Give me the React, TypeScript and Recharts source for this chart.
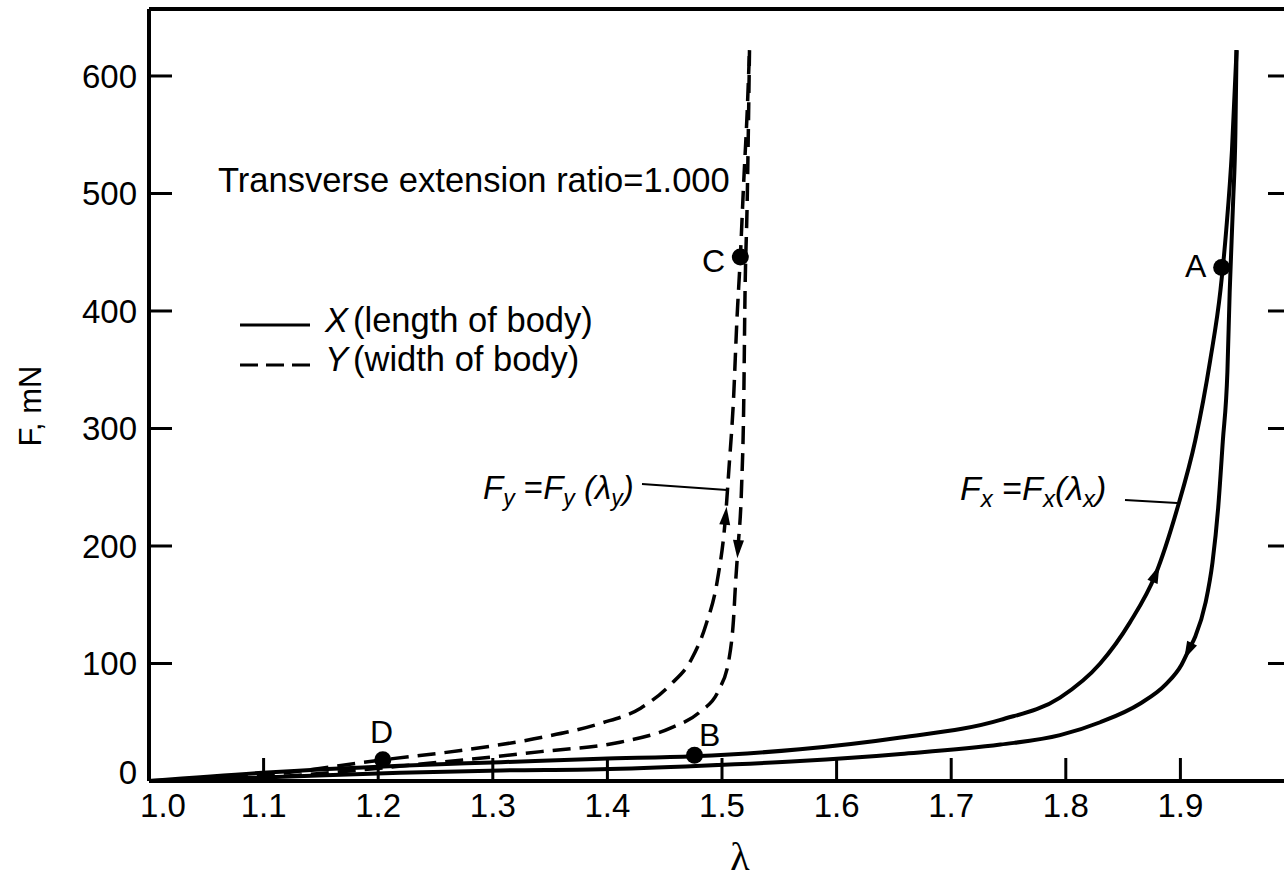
import React from 'react';
import { LineChart, Line, XAxis, YAxis, ReferenceDot, ReferenceLine } from 'recharts';

// ---------- data ----------
const xTicks = [1.0, 1.1, 1.2, 1.3, 1.4, 1.5, 1.6, 1.7, 1.8, 1.9];
const yTicks = [0, 100, 200, 300, 400, 500, 600];

// X (length of body) – loading branch (upper solid)
const lambdaXLoad = [1.0, 1.099, 1.219, 1.307, 1.394, 1.475, 1.568, 1.656, 1.743, 1.795, 1.83, 1.856, 1.878, 1.897, 1.913, 1.926, 1.935, 1.94, 1.945, 1.949];
const forceXLoad = [0, 7, 13, 16, 19, 21, 27, 37, 52, 71, 100, 135, 175, 231, 290, 358, 418, 469, 537, 622];

// X (length of body) – unloading branch (lower solid)
const lambdaXUnload = [1.0, 1.099, 1.219, 1.307, 1.394, 1.482, 1.568, 1.656, 1.743, 1.795, 1.83, 1.865, 1.887, 1.901, 1.9075, 1.913, 1.922, 1.928, 1.933, 1.937, 1.941, 1.943, 1.946, 1.948, 1.949];
const forceXUnload = [0, 3, 7, 9, 10, 13, 17, 23, 31, 39, 50, 66, 82, 99, 112, 123, 152, 186, 233, 289, 348, 416, 493, 552, 622];

// Y (width of body) – loading branch (upper dashed)
const lambdaYLoad = [1.0, 1.099, 1.204, 1.272, 1.342, 1.394, 1.429, 1.455, 1.473, 1.486, 1.496, 1.503, 1.506, 1.51, 1.513, 1.516, 1.519, 1.522, 1.524];
const forceYLoad = [0, 5, 18, 26, 37, 49, 62, 82, 103, 133, 171, 224, 265, 324, 392, 446, 511, 570, 622];

// Y (width of body) – unloading branch (lower dashed)
const lambdaYUnload = [1.0, 1.099, 1.254, 1.342, 1.411, 1.455, 1.481, 1.497, 1.506, 1.51, 1.512, 1.514, 1.517, 1.519, 1.52, 1.522, 1.524];
const forceYUnload = [0, 3, 16, 25, 33, 45, 59, 77, 103, 137, 171, 199, 248, 324, 409, 494, 622];

// marked points
const pointNames = ['A', 'B', 'C', 'D'];
const pointLambda = [1.936, 1.476, 1.516, 1.204];
const pointForce = [437, 22, 446, 18];

// direction arrows (λ of the data point carrying the arrow)
const arrowXLoad = 1.878;
const arrowXUnload = 1.9075;
const arrowYLoad = 1.503;
const arrowYUnload = 1.514;

const toRows = (l: number[], f: number[]) => l.map((v, i) => ({ lam: v, f: f[i] }));
const dataXLoad = toRows(lambdaXLoad, forceXLoad);
const dataXUnload = toRows(lambdaXUnload, forceXUnload);
const dataYLoad = toRows(lambdaYLoad, forceYLoad);
const dataYUnload = toRows(lambdaYUnload, forceYUnload);

// ---------- layout ----------
const CHART_W = 1320;
const CHART_H = 878;
const Y_AXIS_W = 149;
const RIGHT_AXIS_W = 25;
const X_AXIS_H = 97;
const TOP = 9;
const X_DOMAIN: [number, number] = [1, 2];
const Y_DOMAIN: [number, number] = [0, 657];
const PX_PER_LAMBDA = (CHART_W - Y_AXIS_W - RIGHT_AXIS_W) / (X_DOMAIN[1] - X_DOMAIN[0]);
const PX_PER_FORCE = (CHART_H - TOP - X_AXIS_H) / (Y_DOMAIN[1] - Y_DOMAIN[0]);

const FONT = '"Liberation Sans", Arial, Helvetica, sans-serif';
const INK = '#000';

function makeArrowDot(lams: number[], fs: number[], arrowLam: number, dir: 1 | -1) {
  return (props: any) => {
    const { cx, cy, index } = props;
    const k = `dot-${index}`;
    if (index == null || cx == null || Math.abs(lams[index] - arrowLam) > 1e-9) return <g key={k} />;
    const i0 = Math.max(0, index - 1);
    const i1 = Math.min(lams.length - 1, index + 1);
    const dx = (lams[i1] - lams[i0]) * PX_PER_LAMBDA * dir;
    const dy = -(fs[i1] - fs[i0]) * PX_PER_FORCE * dir;
    const len = Math.hypot(dx, dy) || 1;
    const ux = dx / len;
    const uy = dy / len;
    const px = -uy;
    const py = ux;
    const L = 11, B = 7, W = 5.5;
    const pts = [
      [cx + ux * L, cy + uy * L],
      [cx - ux * B + px * W, cy - uy * B + py * W],
      [cx - ux * B - px * W, cy - uy * B - py * W],
    ]
      .map((p) => p.join(','))
      .join(' ');
    return <polygon key={k} points={pts} fill={INK} stroke="none" />;
  };
}

const XTick = (props: any) => {
  const { x, y, payload } = props;
  const v = payload.value as number;
  const first = Math.abs(v - 1) < 1e-9;
  return (
    <g>
      {!first && <line x1={x} x2={x} y1={y} y2={y - 23} stroke={INK} strokeWidth={3} />}
      <text x={x + (first ? 14 : 0)} y={y + 36} textAnchor="middle" fontFamily={FONT} fontSize={33} fill={INK}>
        {v.toFixed(1)}
      </text>
    </g>
  );
};

const YTick = (props: any) => {
  const { x, y, payload } = props;
  const v = payload.value as number;
  const first = v === 0;
  return (
    <g>
      {!first && <line x1={x} x2={x + 23} y1={y} y2={y} stroke={INK} strokeWidth={3} />}
      <text x={x - 12} y={y + 12 - (first ? 9 : 0)} textAnchor="end" fontFamily={FONT} fontSize={33} fill={INK}>
        {v}
      </text>
    </g>
  );
};

const RightTick = (props: any) => {
  const { x, y, payload } = props;
  const v = payload.value as number;
  if (v === 0) return <g />;
  return <line x1={x} x2={x - 27} y1={y} y2={y} stroke={INK} strokeWidth={3} />;
};

export default function App() {
  return (
    <div
      style={{
        position: 'fixed',
        left: 0,
        top: 0,
        width: 1284,
        height: 878,
        overflow: 'hidden',
        background: '#fff',
      }}
    >
      <div style={{ position: 'absolute', left: 0, top: 0 }}>
        <LineChart width={CHART_W} height={CHART_H} margin={{ top: TOP, right: 0, bottom: 0, left: 0 }}>
          <XAxis
            dataKey="lam"
            type="number"
            domain={X_DOMAIN}
            ticks={xTicks}
            interval={0}
            height={X_AXIS_H}
            tickSize={0}
            tickMargin={0}
            tickLine={false}
            axisLine={{ stroke: INK, strokeWidth: 4 }}
            tick={XTick}
            allowDataOverflow
          />
          <YAxis
            yAxisId="left"
            type="number"
            domain={Y_DOMAIN}
            ticks={yTicks}
            interval={0}
            width={Y_AXIS_W}
            tickSize={0}
            tickMargin={0}
            tickLine={false}
            axisLine={{ stroke: INK, strokeWidth: 4 }}
            tick={YTick}
            allowDataOverflow
          />
          <YAxis
            yAxisId="right"
            orientation="right"
            type="number"
            domain={Y_DOMAIN}
            ticks={yTicks}
            interval={0}
            width={RIGHT_AXIS_W}
            tickSize={0}
            tickMargin={0}
            tickLine={false}
            axisLine={{ stroke: INK, strokeWidth: 4 }}
            tick={RightTick}
            allowDataOverflow
          />
          <ReferenceLine yAxisId="left" y={Y_DOMAIN[1]} stroke={INK} strokeWidth={4} />

          <Line
            yAxisId="left"
            data={dataXLoad}
            dataKey="f"
            type="monotone"
            stroke={INK}
            strokeWidth={4}
            dot={makeArrowDot(lambdaXLoad, forceXLoad, arrowXLoad, 1)}
            activeDot={false}
            isAnimationActive={false}
          />
          <Line
            yAxisId="left"
            data={dataXUnload}
            dataKey="f"
            type="monotone"
            stroke={INK}
            strokeWidth={4}
            dot={makeArrowDot(lambdaXUnload, forceXUnload, arrowXUnload, -1)}
            activeDot={false}
            isAnimationActive={false}
          />
          <Line
            yAxisId="left"
            data={dataYLoad}
            dataKey="f"
            type="monotone"
            stroke={INK}
            strokeWidth={3.5}
            strokeDasharray="18 9"
            dot={makeArrowDot(lambdaYLoad, forceYLoad, arrowYLoad, 1)}
            activeDot={false}
            isAnimationActive={false}
          />
          <Line
            yAxisId="left"
            data={dataYUnload}
            dataKey="f"
            type="monotone"
            stroke={INK}
            strokeWidth={3.5}
            strokeDasharray="18 9"
            dot={makeArrowDot(lambdaYUnload, forceYUnload, arrowYUnload, -1)}
            activeDot={false}
            isAnimationActive={false}
          />

          {pointNames.map((n, i) => (
            <ReferenceDot
              key={n}
              yAxisId="left"
              x={pointLambda[i]}
              y={pointForce[i]}
              r={8.5}
              fill={INK}
              stroke="none"
            />
          ))}
        </LineChart>
      </div>

      <svg
        width={1284}
        height={878}
        style={{ position: 'absolute', left: 0, top: 0, pointerEvents: 'none' }}
        fontFamily={FONT}
        fill={INK}
      >
        {/* axis titles */}
        <text x={740} y={870} textAnchor="middle" fontFamily='"Liberation Serif", "DejaVu Serif", serif' fontSize={40}>
          λ
        </text>
        <text x={0} y={0} transform="translate(41 406) rotate(-90)" textAnchor="middle" fontSize={31}>
          F, mN
        </text>

        {/* header note */}
        <text x={218} y={192} fontSize={34.5}>
          Transverse extension ratio=1.000
        </text>

        {/* legend */}
        <line x1={240} x2={310} y1={325} y2={325} stroke={INK} strokeWidth={3} />
        <text x={325} y={332} fontSize={34.5}>
          <tspan fontStyle="italic">X</tspan>
          <tspan dx={5}>(length of body)</tspan>
        </text>
        <line x1={240} x2={310} y1={365} y2={365} stroke={INK} strokeWidth={3} strokeDasharray="18 8" />
        <text x={325} y={371} fontSize={34.5}>
          <tspan fontStyle="italic">Y</tspan>
          <tspan dx={5}>(width of body)</tspan>
        </text>

        {/* curve annotations */}
        <text x={483} y={499} fontSize={33} fontStyle="italic">
          F<tspan fontSize={23} dy={7}>y</tspan>
          <tspan dy={-7}> </tspan>
          <tspan fontStyle="normal">=</tspan>
          <tspan>F</tspan>
          <tspan fontSize={23} dy={7}>y</tspan>
          <tspan dy={-7}> (λ</tspan>
          <tspan fontSize={23} dy={7}>y</tspan>
          <tspan dy={-7}>)</tspan>
        </text>
        <line x1={642} y1={484} x2={727} y2={490} stroke={INK} strokeWidth={2} />

        <text x={960} y={500} fontSize={34} fontStyle="italic">
          F<tspan fontSize={24} dy={7}>x</tspan>
          <tspan dy={-7}> </tspan>
          <tspan fontStyle="normal">=</tspan>
          <tspan>F</tspan>
          <tspan fontSize={24} dy={7}>x</tspan>
          <tspan dy={-7}>(λ</tspan>
          <tspan fontSize={24} dy={7}>x</tspan>
          <tspan dy={-7}>)</tspan>
        </text>
        <line x1={1125} y1={500} x2={1177} y2={503} stroke={INK} strokeWidth={2} />

        {/* point labels */}
        <text x={1185} y={277} fontSize={32}>A</text>
        <text x={699} y={746} fontSize={32}>B</text>
        <text x={702} y={272} fontSize={32}>C</text>
        <text x={370} y={743} fontSize={32}>D</text>
      </svg>
    </div>
  );
}
